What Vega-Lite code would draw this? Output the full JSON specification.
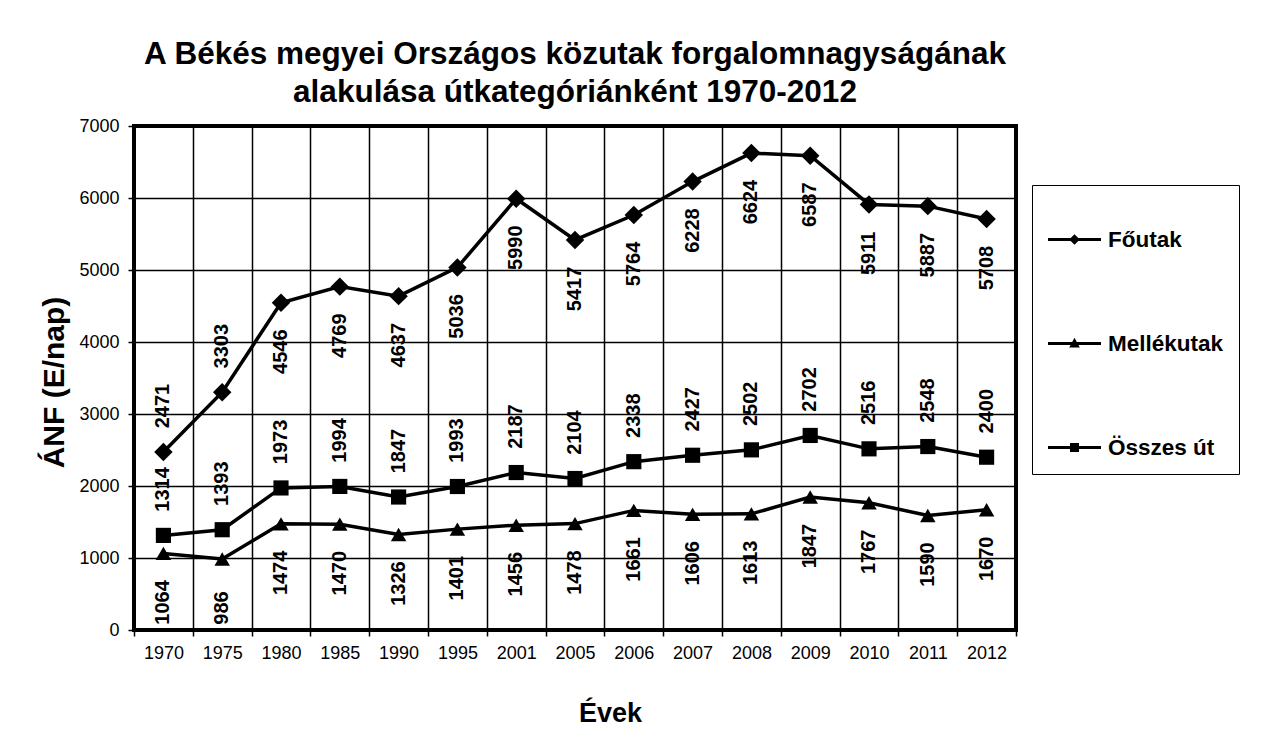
{
  "$schema": "https://vega.github.io/schema/vega-lite/v6.json",
  "autosize": "none",
  "width": 882,
  "height": 504,
  "padding": {"left": 134, "top": 126, "right": 246, "bottom": 120},
  "background": "white",
  "title": {
    "text": ["A Békés megyei Országos közutak forgalomnagyságának", "alakulása útkategóriánként  1970-2012"],
    "font": "Liberation Sans",
    "fontSize": 31.5,
    "fontWeight": "bold",
    "color": "black",
    "anchor": "middle",
    "lineHeight": 38,
    "offset": 9
  },
  "data": {
    "values": [
      {"year": "1970", "series": "Főutak", "value": 2471},
      {"year": "1975", "series": "Főutak", "value": 3303},
      {"year": "1980", "series": "Főutak", "value": 4546},
      {"year": "1985", "series": "Főutak", "value": 4769},
      {"year": "1990", "series": "Főutak", "value": 4637},
      {"year": "1995", "series": "Főutak", "value": 5036},
      {"year": "2001", "series": "Főutak", "value": 5990},
      {"year": "2005", "series": "Főutak", "value": 5417},
      {"year": "2006", "series": "Főutak", "value": 5764},
      {"year": "2007", "series": "Főutak", "value": 6228},
      {"year": "2008", "series": "Főutak", "value": 6624},
      {"year": "2009", "series": "Főutak", "value": 6587},
      {"year": "2010", "series": "Főutak", "value": 5911},
      {"year": "2011", "series": "Főutak", "value": 5887},
      {"year": "2012", "series": "Főutak", "value": 5708},
      {"year": "1970", "series": "Mellékutak", "value": 1064},
      {"year": "1975", "series": "Mellékutak", "value": 986},
      {"year": "1980", "series": "Mellékutak", "value": 1474},
      {"year": "1985", "series": "Mellékutak", "value": 1470},
      {"year": "1990", "series": "Mellékutak", "value": 1326},
      {"year": "1995", "series": "Mellékutak", "value": 1401},
      {"year": "2001", "series": "Mellékutak", "value": 1456},
      {"year": "2005", "series": "Mellékutak", "value": 1478},
      {"year": "2006", "series": "Mellékutak", "value": 1661},
      {"year": "2007", "series": "Mellékutak", "value": 1606},
      {"year": "2008", "series": "Mellékutak", "value": 1613},
      {"year": "2009", "series": "Mellékutak", "value": 1847},
      {"year": "2010", "series": "Mellékutak", "value": 1767},
      {"year": "2011", "series": "Mellékutak", "value": 1590},
      {"year": "2012", "series": "Mellékutak", "value": 1670},
      {"year": "1970", "series": "Összes út", "value": 1314},
      {"year": "1975", "series": "Összes út", "value": 1393},
      {"year": "1980", "series": "Összes út", "value": 1973},
      {"year": "1985", "series": "Összes út", "value": 1994},
      {"year": "1990", "series": "Összes út", "value": 1847},
      {"year": "1995", "series": "Összes út", "value": 1993},
      {"year": "2001", "series": "Összes út", "value": 2187},
      {"year": "2005", "series": "Összes út", "value": 2104},
      {"year": "2006", "series": "Összes út", "value": 2338},
      {"year": "2007", "series": "Összes út", "value": 2427},
      {"year": "2008", "series": "Összes út", "value": 2502},
      {"year": "2009", "series": "Összes út", "value": 2702},
      {"year": "2010", "series": "Összes út", "value": 2516},
      {"year": "2011", "series": "Összes út", "value": 2548},
      {"year": "2012", "series": "Összes út", "value": 2400}
    ]
  },
  "encoding": {
    "x": {
      "field": "year",
      "type": "ordinal",
      "bandPosition": 0.5,
      "scale": {"type": "band", "paddingInner": 0, "paddingOuter": 0},
      "axis": {
        "title": "Évek",
        "titleFont": "Liberation Sans",
        "titleFontSize": 27,
        "titleFontWeight": "bold",
        "titleColor": "black",
        "titleX": 476,
        "titleY": 91,
        "titleBaseline": "alphabetic",
        "titleAnchor": null,
        "labelAngle": 0,
        "labelFont": "Liberation Sans",
        "labelFontSize": 18,
        "labelColor": "black",
        "labelPadding": 8,
        "tickBand": "extent",
        "tickSize": 6,
        "tickColor": "black",
        "tickWidth": 1.5,
        "grid": true,
        "gridColor": "black",
        "gridWidth": 1.5,
        "gridOpacity": 1,
        "domain": false
      }
    },
    "y": {
      "field": "value",
      "type": "quantitative",
      "scale": {"domain": [0, 7000], "nice": false},
      "axis": {
        "title": "ÁNF (E/nap)",
        "titleFont": "Liberation Sans",
        "titleFontSize": 30,
        "titleFontWeight": "bold",
        "titleColor": "black",
        "titleAngle": 270,
        "titleBaseline": "middle",
        "titleX": -80,
        "titleY": 256,
        "titleAnchor": null,
        "values": [0, 1000, 2000, 3000, 4000, 5000, 6000, 7000],
        "format": "d",
        "labelFont": "Liberation Sans",
        "labelFontSize": 18,
        "labelColor": "black",
        "labelPadding": 9,
        "tickSize": 6,
        "tickColor": "black",
        "tickWidth": 1.5,
        "grid": true,
        "gridColor": "black",
        "gridWidth": 1.5,
        "gridOpacity": 1,
        "domain": false
      }
    }
  },
  "layer": [
    {
      "mark": {"type": "line", "color": "black", "strokeWidth": 3.5},
      "encoding": {"detail": {"field": "series"}}
    },
    {
      "transform": [{"filter": "datum.series == 'Főutak'"}],
      "mark": {"type": "point", "shape": "diamond", "filled": true, "color": "black", "size": 340, "opacity": 1}
    },
    {
      "transform": [{"filter": "datum.series == 'Mellékutak'"}],
      "mark": {"type": "point", "shape": "triangle-up", "filled": true, "color": "black", "size": 240, "opacity": 1}
    },
    {
      "transform": [{"filter": "datum.series == 'Összes út'"}],
      "mark": {"type": "point", "shape": "square", "filled": true, "color": "black", "size": 230, "opacity": 1}
    },
    {
      "transform": [{"filter": "datum.series == 'Összes út' || (datum.series == 'Főutak' && (datum.year == '1970' || datum.year == '1975'))"}],
      "mark": {"type": "text", "angle": 270, "align": "center", "baseline": "middle", "dx": 46, "font": "Liberation Sans", "fontSize": 20, "fontWeight": "bold", "color": "black"},
      "encoding": {"text": {"field": "value", "type": "quantitative", "format": "d"}}
    },
    {
      "transform": [{"filter": "!(datum.series == 'Összes út' || (datum.series == 'Főutak' && (datum.year == '1970' || datum.year == '1975')))"}],
      "mark": {"type": "text", "angle": 270, "align": "center", "baseline": "middle", "dx": -49, "font": "Liberation Sans", "fontSize": 20, "fontWeight": "bold", "color": "black"},
      "encoding": {"text": {"field": "value", "type": "quantitative", "format": "d"}}
    },
    {
      "mark": {"type": "point", "opacity": 0, "filled": true, "color": "black"},
      "encoding": {
        "shape": {
          "field": "series",
          "type": "nominal",
          "scale": {
            "domain": ["Főutak", "Mellékutak", "Összes út"],
            "range": [
              "M-1,-0.06H1V0.06H-1ZM0,-0.2L0.2,0L0,0.2L-0.2,0Z",
              "M-1,-0.06H1V0.06H-1ZM0,-0.22L0.2,0.15L-0.2,0.15Z",
              "M-1,-0.06H1V0.06H-1ZM-0.17,-0.17H0.17V0.17H-0.17Z"
            ]
          },
          "legend": {
            "title": " ",
            "titleFontSize": 6,
            "titlePadding": 6,
            "orient": "none",
            "legendX": 898,
            "legendY": 59,
            "strokeColor": "black",
            "fillColor": "white",
            "padding": 15,
            "rowPadding": 65,
            "symbolSize": 2809,
            "labelFont": "Liberation Sans",
            "labelFontSize": 22.5,
            "labelFontWeight": "bold",
            "labelColor": "black",
            "labelOffset": 6,
            "labelLimit": 300,
            "encode": {
              "legend": {"update": {"strokeWidth": {"value": 1.5}}},
              "symbols": {"update": {
                "fill": {"value": "black"},
                "stroke": {"value": "black"},
                "strokeWidth": {"value": 0.5},
                "opacity": {"value": 1},
                "fillOpacity": {"value": 1},
                "strokeOpacity": {"value": 1}
              }}
            }
          }
        }
      }
    }
  ],
  "config": {
    "view": {"stroke": "black", "strokeWidth": 4}
  }
}
